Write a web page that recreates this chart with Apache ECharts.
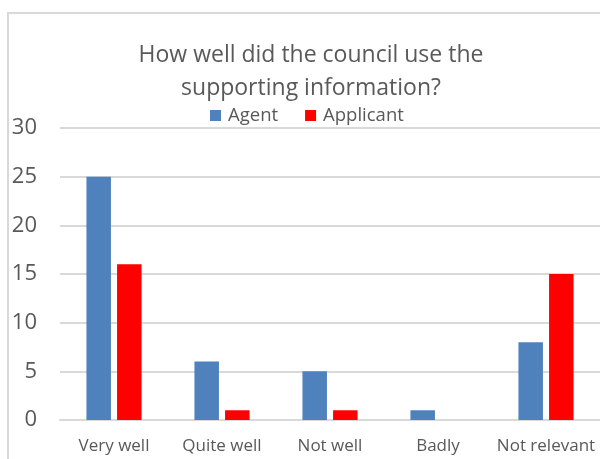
<!DOCTYPE html>
<html>
<head>
<meta charset="utf-8">
<script src="https://cdn.jsdelivr.net/npm/echarts@6/dist/echarts.min.js"></script>
<style>
  html, body { margin: 0; padding: 0; background: #ffffff; }
  #chart { width: 600px; height: 459px; }
</style>
</head>
<body>
<div id="chart"></div>
<script>
// Survey answers: how well the council used the supporting information
const categories = ['Very well', 'Quite well', 'Not well', 'Badly', 'Not relevant'];
const agentCounts = [25, 6, 5, 1, 8];
const applicantCounts = [16, 1, 1, 0, 15];
const seriesNames = ['Agent', 'Applicant'];
const titleText = 'How well did the council use the\nsupporting information?';

const FONT = '"Open Sans", "Noto Sans", sans-serif';
const TEXT_COLOR = '#595959';
const GRID_COLOR = '#D9D9D9';

const chart = echarts.init(document.getElementById('chart'), null, { renderer: 'canvas' });

chart.setOption({
  backgroundColor: '#ffffff',
  animation: false,
  graphic: [{
    type: 'rect',
    shape: { x: 8, y: 13, width: 640, height: 500 },
    style: { fill: 'none', stroke: GRID_COLOR, lineWidth: 2 },
    silent: true,
    z: -1
  }],
  title: {
    text: titleText,
    left: 306,
    textAlign: 'center',
    top: 34,
    textStyle: {
      fontFamily: FONT,
      fontSize: 23,
      fontWeight: 'normal',
      color: TEXT_COLOR,
      lineHeight: 33
    }
  },
  legend: {
    data: seriesNames,
    left: 210,
    top: 105.5,
    padding: 0,
    icon: 'rect',
    itemWidth: 11,
    itemHeight: 11,
    itemGap: 27,
    textStyle: {
      fontFamily: FONT,
      fontSize: 18.5,
      color: TEXT_COLOR,
      lineHeight: 20,
      padding: [0, 0, 0, 2]
    }
  },
  grid: {
    left: 60,
    right: 0,
    top: 128,
    bottom: 39,
    containLabel: false
  },
  xAxis: {
    type: 'category',
    data: categories,
    axisTick: { show: false },
    axisLine: { show: true, lineStyle: { color: GRID_COLOR, width: 2 } },
    axisLabel: {
      fontFamily: FONT,
      fontSize: 17,
      color: TEXT_COLOR,
      margin: 16,
      lineHeight: 20,
      interval: 0
    }
  },
  yAxis: {
    type: 'value',
    min: 0,
    max: 30,
    interval: 5,
    axisLine: { show: false },
    axisTick: { show: false },
    splitLine: { lineStyle: { color: GRID_COLOR, width: 2 } },
    axisLabel: {
      fontFamily: FONT,
      fontSize: 22,
      color: TEXT_COLOR,
      margin: 23
    }
  },
  series: [
    {
      name: seriesNames[0],
      type: 'bar',
      data: agentCounts,
      barWidth: 24.5,
      barGap: '25%',
      itemStyle: { color: '#4F81BD' }
    },
    {
      name: seriesNames[1],
      type: 'bar',
      data: applicantCounts,
      barWidth: 24.5,
      barGap: '25%',
      itemStyle: { color: '#FF0000' }
    }
  ]
});
</script>
</body>
</html>
